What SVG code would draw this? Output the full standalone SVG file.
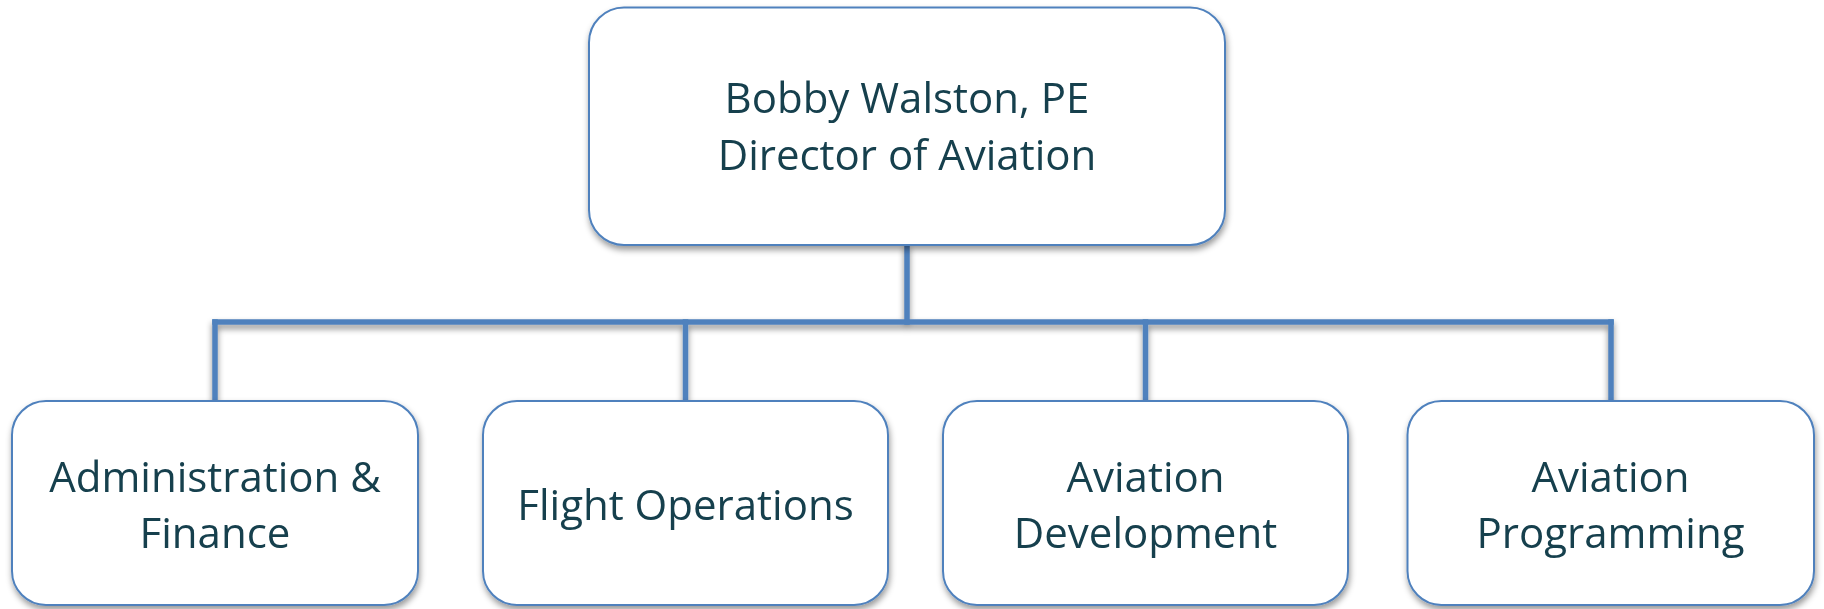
<svg xmlns="http://www.w3.org/2000/svg" width="1824" height="609" viewBox="0 0 1824 609">
<style>
.box{fill:#ffffff;stroke:#4F81BD;stroke-width:2}
.lbl{font-family:"Open Sans","Noto Sans","Liberation Sans",sans-serif;font-size:42px;fill:#17404E;text-anchor:middle}
.con{fill:none;stroke:#4F81BD;stroke-width:5.5;stroke-linecap:square}
</style>
<defs>
<filter id="sh" x="-10%" y="-10%" width="120%" height="130%">
<feDropShadow dx="1" dy="4" stdDeviation="3" flood-color="#000" flood-opacity="0.4"/>
</filter>
<filter id="lsh" x="-5%" y="-20%" width="110%" height="140%">
<feDropShadow dx="0" dy="4" stdDeviation="3" flood-color="#000" flood-opacity="0.45"/>
</filter>
</defs>
<rect width="1824" height="609" fill="#ffffff"/>
<g id="connectors" filter="url(#lsh)">
<path class="con" d="M907 246V322"/>
<path class="con" d="M215 322H1611"/>
<path class="con" d="M215 322V400M685.5 322V400M1145.5 322V400M1611 322V400"/>
</g>
<g id="director" filter="url(#sh)">
<rect class="box" x="589" y="7.5" width="636" height="237.5" rx="35"/>
<text class="lbl" x="907" y="113">Bobby Walston, PE</text>
<text class="lbl" x="907" y="170">Director of Aviation</text>
</g>
<g id="admin" filter="url(#sh)">
<rect class="box" x="12" y="401" width="406" height="204" rx="34"/>
<text class="lbl" x="215" y="492">Administration &amp;</text>
<text class="lbl" x="215" y="548">Finance</text>
</g>
<g id="flightops" filter="url(#sh)">
<rect class="box" x="483" y="401" width="405" height="204" rx="34"/>
<text class="lbl" x="685.5" y="520">Flight Operations</text>
</g>
<g id="development" filter="url(#sh)">
<rect class="box" x="943" y="401" width="405" height="204" rx="34"/>
<text class="lbl" x="1145.5" y="492">Aviation</text>
<text class="lbl" x="1145.5" y="548">Development</text>
</g>
<g id="programming" filter="url(#sh)">
<rect class="box" x="1407.5" y="401" width="406.5" height="204" rx="34"/>
<text class="lbl" x="1610.5" y="492">Aviation</text>
<text class="lbl" x="1610.5" y="548">Programming</text>
</g>
</svg>
